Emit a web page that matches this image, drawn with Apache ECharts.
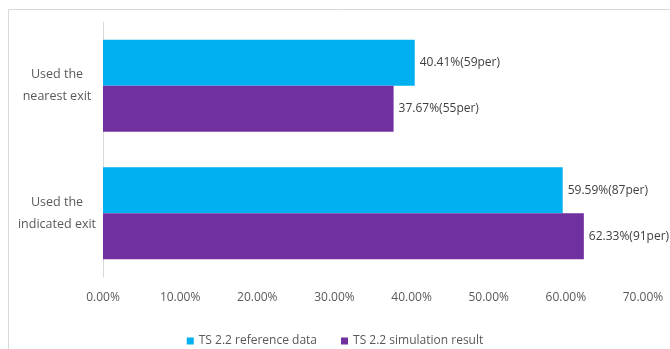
<!DOCTYPE html>
<html>
<head>
<meta charset="utf-8">
<script src="https://cdn.jsdelivr.net/npm/echarts@6/dist/echarts.min.js"></script>
<style>
  html, body { margin: 0; padding: 0; background: #ffffff; }
  #chart { width: 670px; height: 349px; }
</style>
</head>
<body>
<div id="chart"></div>
<script>
// categories, top to bottom
var categories = ["Used the\nnearest exit", "Used the\nindicated exit"];
var referenceData = [40.41, 59.59];
var referencePeople = [59, 87];
var simulationData = [37.67, 62.33];
var simulationPeople = [55, 91];
var seriesNames = ["TS 2.2 reference data", "TS 2.2 simulation result"];

var chart = echarts.init(document.getElementById("chart"));
var font = "'Open Sans', sans-serif";

function labelFmt(people) {
  return function (p) {
    return p.value.toFixed(2) + "%(" + people[p.dataIndex] + "per)";
  };
}

var option = {
  animation: false,
  textStyle: { fontFamily: font },
  graphic: [
    {
      type: "rect",
      shape: { x: 8.5, y: 9.5, width: 680, height: 360 },
      style: { fill: "none", stroke: "#d9d9d9", lineWidth: 1 }
    }
  ],
  grid: { left: 103, right: 27, top: 22, bottom: 72 },
  legend: {
    bottom: 2,
    padding: 0,
    left: "center",
    itemWidth: 7,
    itemHeight: 7,
    itemGap: 24,
    icon: "rect",
    textStyle: { color: "#595959", fontSize: 12, fontFamily: font },
    data: seriesNames
  },
  xAxis: {
    type: "value",
    min: 0,
    max: 70,
    interval: 10,
    axisLine: { show: false },
    axisTick: { show: false },
    splitLine: { show: false },
    axisLabel: {
      color: "#595959",
      fontSize: 12,
      margin: 15,
      formatter: function (v) { return v.toFixed(2) + "%"; }
    }
  },
  yAxis: {
    type: "category",
    inverse: true,
    data: categories,
    axisLine: { show: true, lineStyle: { color: "#d9d9d9" } },
    axisTick: { show: false },
    axisLabel: {
      color: "#595959",
      fontSize: 12.5,
      align: "center",
      margin: 46,
      lineHeight: 22
    }
  },
  series: [
    {
      name: seriesNames[0],
      type: "bar",
      data: referenceData,
      barWidth: 46,
      barGap: "0%",
      itemStyle: { color: "#00b0f0" },
      label: {
        show: true,
        position: "right",
        distance: 5,
        color: "#404040",
        fontSize: 12,
        formatter: labelFmt(referencePeople)
      }
    },
    {
      name: seriesNames[1],
      type: "bar",
      data: simulationData,
      barWidth: 46,
      barGap: "0%",
      itemStyle: { color: "#7030a0" },
      label: {
        show: true,
        position: "right",
        distance: 5,
        color: "#404040",
        fontSize: 12,
        formatter: labelFmt(simulationPeople)
      }
    }
  ]
};

chart.setOption(option);
</script>
</body>
</html>
